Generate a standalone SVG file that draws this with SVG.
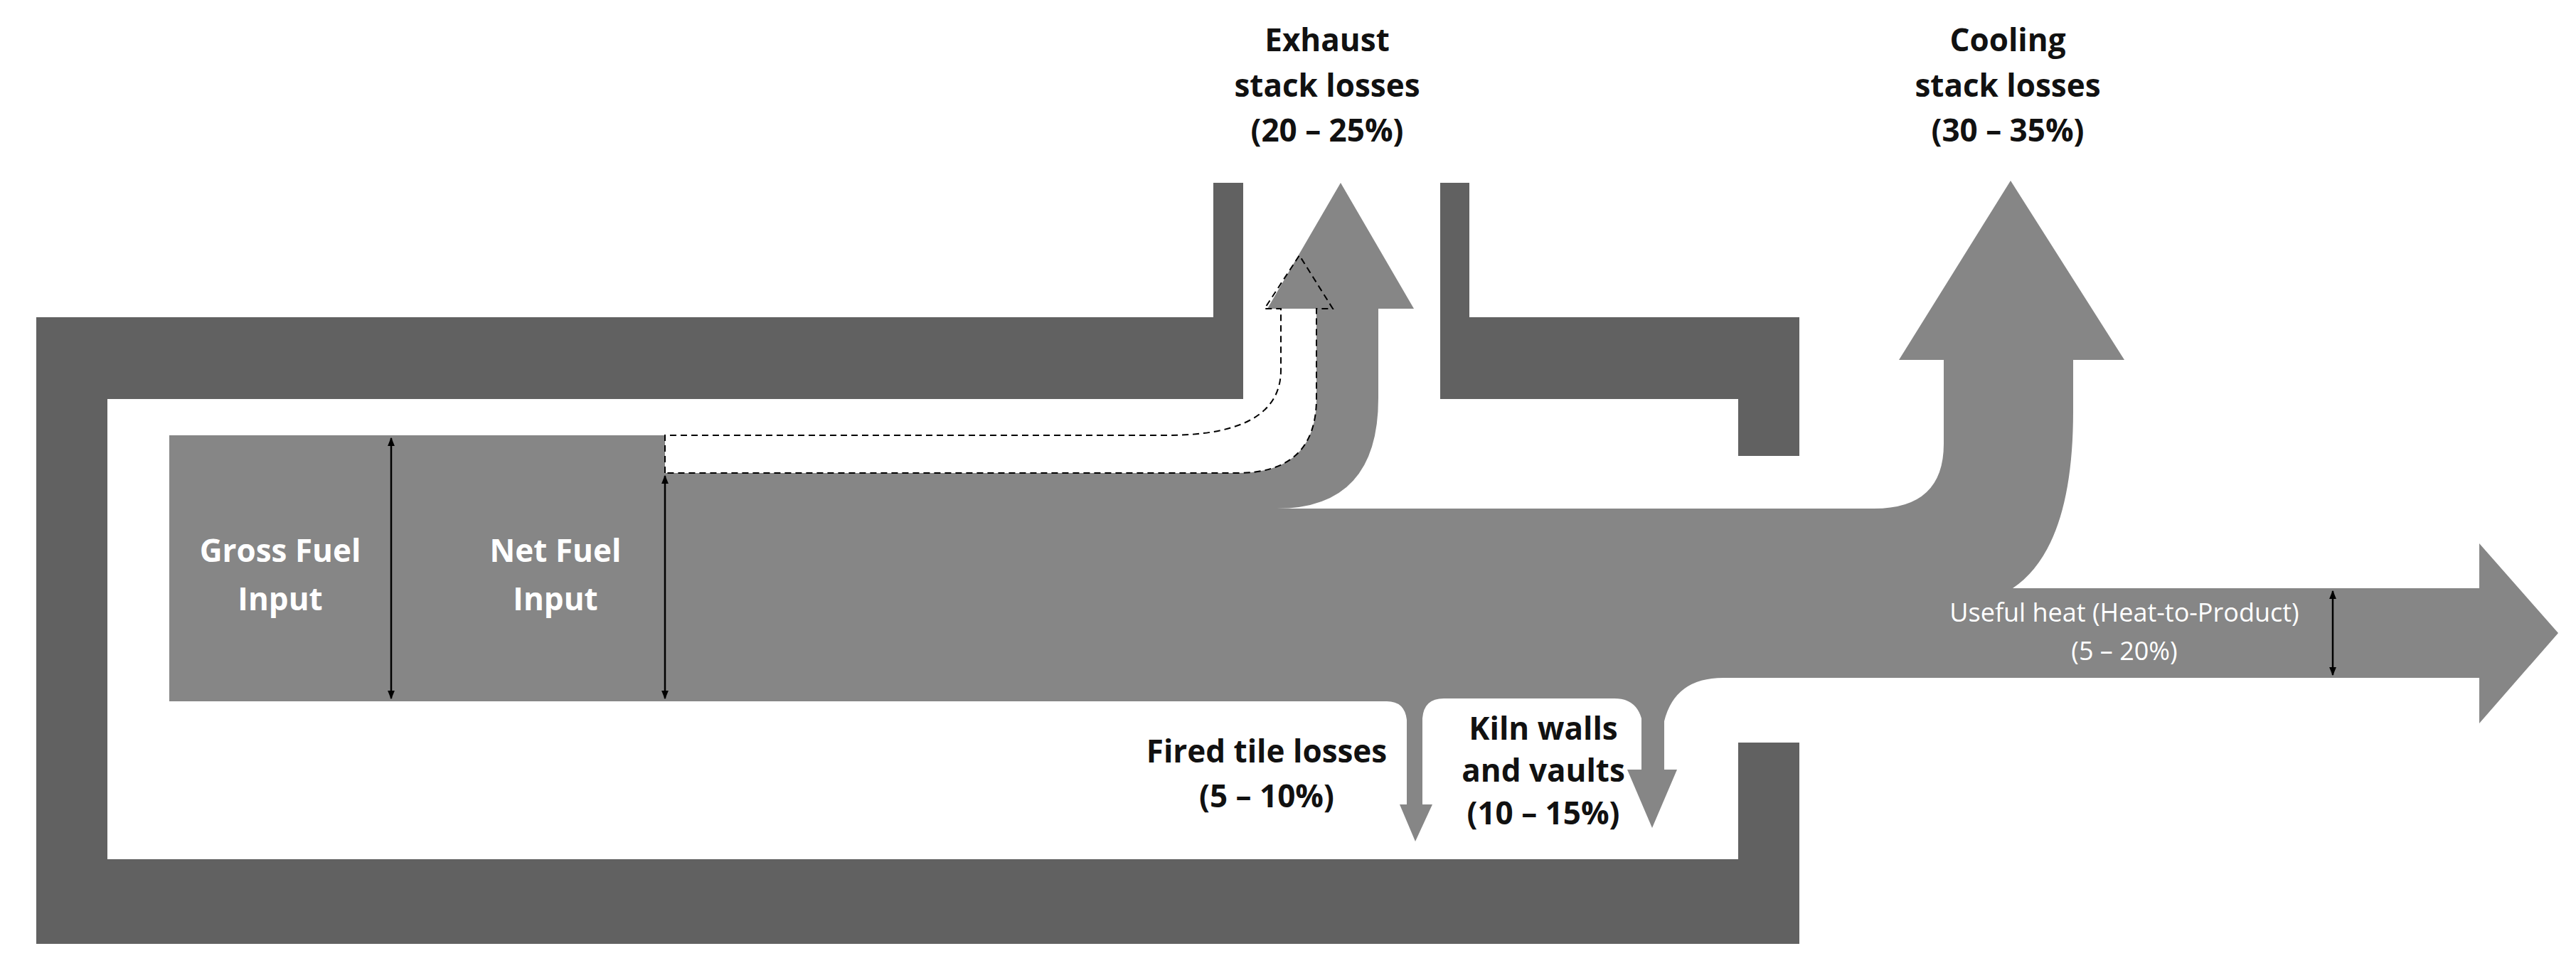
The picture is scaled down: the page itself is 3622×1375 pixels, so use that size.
<svg xmlns="http://www.w3.org/2000/svg" width="3622" height="1375" viewBox="0 0 3622 1375">
<style>
.wall{fill:#616161}
.flow{fill:#868686}
.t{font-family:"Open Sans","Liberation Sans",sans-serif;font-weight:bold;font-size:44px;text-anchor:middle;fill:#111}
.w{fill:#fff}
.dim{stroke:#000;stroke-width:2.5;fill:none;marker-start:url(#a);marker-end:url(#a)}
.dash{fill:none;stroke:#000;stroke-width:2;stroke-dasharray:9 6}
</style>
<defs>
<marker id="a" viewBox="0 0 10 10" refX="9" refY="5" markerWidth="5" markerHeight="5" orient="auto-start-reverse"><path d="M0,1 L10,5 L0,9 z" fill="#000"/></marker>
</defs>
<rect width="3622" height="1375" fill="#fff"/>
<g id="kiln">
<path class="wall" d="M51,446 H1706 V257 H1748 V561 H151 V1208 H2444 V1044 H2530 V1327 H51 Z"/>
<path class="wall" d="M2025,257 H2066 V446 H2530 V641 H2444 V561 H2025 Z"/>
</g>
<g id="flows">
<rect id="gross" class="flow" x="238" y="612" width="312" height="374"/>
<rect id="net" class="flow" x="550" y="612" width="385" height="374"/>
<path id="main" class="flow" d="M935,665 H1740 Q1851,665 1851,560 V434 H1782 L1885,257 L1988,434 H1938 V560 Q1938,715 1795,715 H2633 Q2733,716 2733,624 V506 H2670 L2827,254 L2987,506 H2915 V578 Q2915,770 2830,827 H3486 V764 L3597,890 L3486,1017 V953 H2423 Q2355,953 2340,1014 V1082 H2358 L2323,1164 L2288,1082 H2308 V1010 Q2300,982 2270,982 H2030 Q2002,982 2000,1010 V1131 H2014 L1990,1183 L1968,1131 H1978 V1012 Q1975,986 1950,986 H935 Z"/>
</g>
<g id="connectors">
<path class="dash" d="M935,665 V612 H1640 Q1801,612 1801,520 V434 H1778 L1827,359 L1874,434 H1851 V560 Q1851,665 1740,665 H935"/>
<line class="dim" x1="550" y1="616" x2="550" y2="982"/>
<line class="dim" x1="935" y1="669" x2="935" y2="982"/>
<line class="dim" x1="3280" y1="831" x2="3280" y2="949"/>
</g>
<g id="labels">
<text class="t w" x="394" y="790">Gross Fuel</text>
<text class="t w" x="394" y="858">Input</text>
<text class="t w" x="781" y="790">Net Fuel</text>
<text class="t w" x="781" y="858">Input</text>
<text class="t" x="1866" y="72">Exhaust</text>
<text class="t" x="1866" y="136">stack losses</text>
<text class="t" x="1866" y="199">(20 – 25%)</text>
<text class="t" x="2823" y="72">Cooling</text>
<text class="t" x="2823" y="136">stack losses</text>
<text class="t" x="2823" y="199">(30 – 35%)</text>
<text class="t" x="1781" y="1072">Fired tile losses</text>
<text class="t" x="1781" y="1135">(5 – 10%)</text>
<text class="t" x="2170" y="1040">Kiln walls</text>
<text class="t" x="2170" y="1099">and vaults</text>
<text class="t" x="2170" y="1159">(10 – 15%)</text>
<text class="t w" x="2987" y="874" style="font-weight:normal;font-size:36px">Useful heat (Heat-to-Product)</text>
<text class="t w" x="2987" y="928" style="font-weight:normal;font-size:36px">(5 – 20%)</text>
</g>
</svg>
